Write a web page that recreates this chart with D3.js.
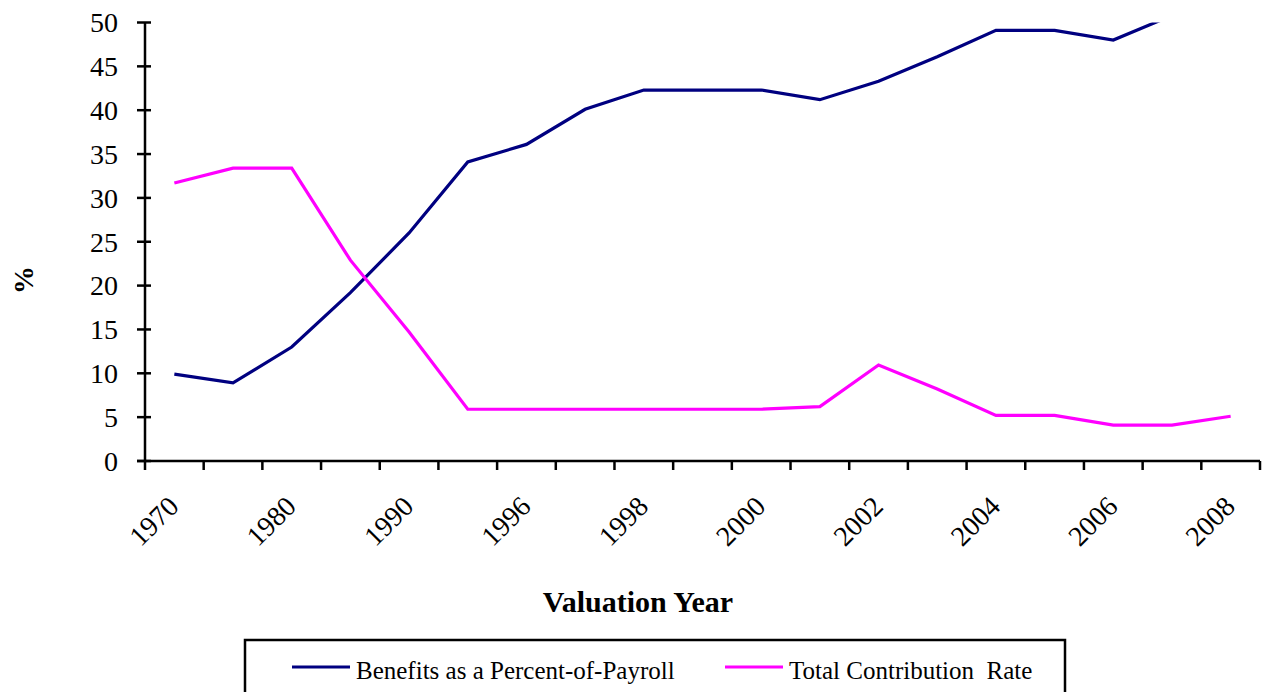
<!DOCTYPE html>
<html>
<head>
<meta charset="utf-8">
<script src="https://cdn.jsdelivr.net/npm/d3@7"></script>
<style>
  body { margin: 0; background: #fff; }
  svg text { font-family: "Liberation Serif", "Times New Roman", serif; fill: #000; }
</style>
</head>
<body>
<div id="chart"></div>
<script>
var years = ["1970", "1975", "1980", "1985", "1990", "1995", "1996", "1997", "1998", "1999",
             "2000", "2001", "2002", "2003", "2004", "2005", "2006", "2007", "2008"];
var shownYears = ["1970", "1980", "1990", "1996", "1998", "2000", "2002", "2004", "2006", "2008"];
var benefits = [9.9, 8.9, 13.0, 19.2, 26.0, 34.1, 36.1, 40.1, 42.3, 42.3,
                42.3, 41.2, 43.3, 46.1, 49.1, 49.1, 48.0, 50.8, 52.0];
var contribution = [31.7, 33.4, 33.4, 22.9, 14.7, 5.9, 5.9, 5.9, 5.9, 5.9,
                    5.9, 6.2, 10.95, 8.2, 5.2, 5.2, 4.1, 4.1, 5.1];
var yTicks = [0, 5, 10, 15, 20, 25, 30, 35, 40, 45, 50];
var seriesNames = ["Benefits as a Percent-of-Payroll", "Total Contribution  Rate"];
var seriesColors = ["#000080", "#ff00ff"];

var WIDTH = 1270, HEIGHT = 692;
var PLOT_LEFT = 145, PLOT_RIGHT = 1260, PLOT_TOP = 22.5, PLOT_BOTTOM = 461;

var svg = d3.select("#chart").append("svg")
    .attr("width", WIDTH)
    .attr("height", HEIGHT);

var x = d3.scaleBand().domain(years).range([PLOT_LEFT, PLOT_RIGHT]).padding(0);
var y = d3.scaleLinear().domain([0, 50]).range([PLOT_BOTTOM, PLOT_TOP]);

svg.append("clipPath").attr("id", "plot-clip")
    .append("rect")
    .attr("x", PLOT_LEFT).attr("y", PLOT_TOP)
    .attr("width", PLOT_RIGHT - PLOT_LEFT).attr("height", PLOT_BOTTOM - PLOT_TOP);

// lines
var line = d3.line()
    .x(function (d, i) { return x(years[i]) + x.bandwidth() / 2; })
    .y(function (d) { return y(d); });

var lines = svg.append("g").attr("clip-path", "url(#plot-clip)");
[benefits, contribution].forEach(function (s, i) {
    lines.append("path")
        .datum(s)
        .attr("fill", "none")
        .attr("stroke", seriesColors[i])
        .attr("stroke-width", 3.2)
        .attr("d", line);
});

// y axis
var yAxis = svg.append("g").attr("class", "y-axis");
yAxis.append("line")
    .attr("x1", PLOT_LEFT).attr("x2", PLOT_LEFT)
    .attr("y1", y(50)).attr("y2", y(0))
    .attr("stroke", "#000").attr("stroke-width", 2.5);
yAxis.selectAll("line.tick")
    .data(yTicks).enter().append("line")
    .attr("class", "tick")
    .attr("x1", PLOT_LEFT - 8).attr("x2", PLOT_LEFT + 6)
    .attr("y1", function (d) { return y(d); })
    .attr("y2", function (d) { return y(d); })
    .attr("stroke", "#000").attr("stroke-width", 2.5);
yAxis.selectAll("text")
    .data(yTicks).enter().append("text")
    .attr("x", PLOT_LEFT - 27)
    .attr("y", function (d) { return y(d); })
    .attr("dy", "0.35em")
    .attr("text-anchor", "end")
    .attr("font-size", 28)
    .text(function (d) { return d; });

// x axis
var xAxis = svg.append("g").attr("class", "x-axis");
xAxis.append("line")
    .attr("x1", PLOT_LEFT - 8).attr("x2", PLOT_RIGHT)
    .attr("y1", PLOT_BOTTOM).attr("y2", PLOT_BOTTOM)
    .attr("stroke", "#000").attr("stroke-width", 2.5);
xAxis.selectAll("line.tick")
    .data(years.concat(["end"])).enter().append("line")
    .attr("class", "tick")
    .attr("x1", function (d) { return d === "end" ? PLOT_RIGHT : x(d); })
    .attr("x2", function (d) { return d === "end" ? PLOT_RIGHT : x(d); })
    .attr("y1", PLOT_BOTTOM).attr("y2", PLOT_BOTTOM + 9)
    .attr("stroke", "#000").attr("stroke-width", 2.5);
xAxis.selectAll("text")
    .data(shownYears).enter().append("text")
    .attr("transform", function (d) {
        var cx = x(d) + x.bandwidth() / 2 + 6;
        return "translate(" + cx + "," + (PLOT_BOTTOM + 47) + ")rotate(-45)";
    })
    .attr("text-anchor", "end")
    .attr("font-size", 28)
    .text(function (d) { return d; });

// axis titles
svg.append("text")
    .attr("x", 638)
    .attr("y", 612)
    .attr("text-anchor", "middle")
    .attr("font-size", 30)
    .attr("font-weight", "bold")
    .text("Valuation Year");

svg.append("text")
    .attr("transform", "translate(33,280)rotate(-90)")
    .attr("text-anchor", "middle")
    .attr("font-size", 28)
    .attr("font-weight", "bold")
    .text("%");

// legend
var legend = svg.append("g").attr("class", "legend");
legend.append("rect")
    .attr("x", 245).attr("y", 640)
    .attr("width", 820).attr("height", 80)
    .attr("fill", "#fff")
    .attr("stroke", "#000").attr("stroke-width", 2.5);

var legendX = [292, 725];
seriesNames.forEach(function (name, i) {
    legend.append("line")
        .attr("x1", legendX[i]).attr("x2", legendX[i] + 58)
        .attr("y1", 667).attr("y2", 667)
        .attr("stroke", seriesColors[i]).attr("stroke-width", 3);
    legend.append("text")
        .attr("x", legendX[i] + 64)
        .attr("y", 679)
        .attr("font-size", 25)
        .style("white-space", "pre")
        .text(name);
});
</script>
</body>
</html>
